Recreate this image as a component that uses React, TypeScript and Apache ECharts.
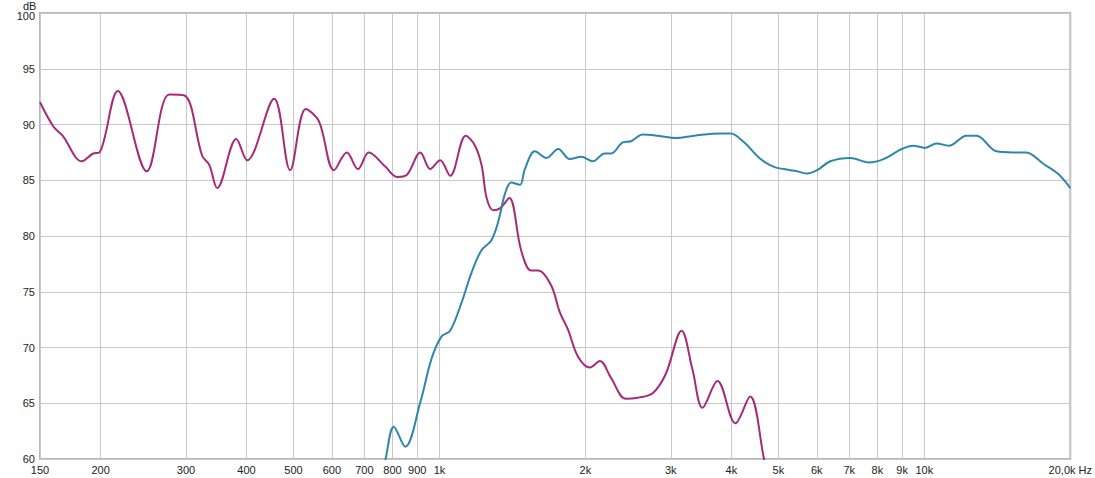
import React, { useEffect, useRef } from "react";
import * as echarts from "echarts";

// Frequency ticks (Hz)
const xTicks = [150, 200, 300, 400, 500, 600, 700, 800, 900, 1000, 2000, 3000, 4000, 5000, 6000, 7000, 8000, 9000, 10000, 20000];
const yTicks = [60, 65, 70, 75, 80, 85, 90, 95, 100];

// Woofer response (magenta): [Hz, dB]
const wooferFreq = [150, 160, 167, 183, 193, 199, 217, 249, 277, 298, 324, 335, 348, 381, 401, 456, 492, 530, 564, 606, 644, 679, 715, 774, 817, 857, 913, 957, 1003, 1052, 1133, 1184, 1222, 1251, 1291, 1335, 1393, 1474, 1545, 1598, 1698, 1773, 1841, 1930, 2043, 2142, 2257, 2423, 2564, 2752, 2927, 3157, 3326, 3487, 3744, 4078, 4371, 4670, 4800];
const wooferDb = [92.0, 89.8, 89.0, 86.7, 87.4, 87.5, 93.0, 85.8, 92.7, 92.6, 87.2, 86.4, 84.3, 88.7, 86.8, 92.3, 85.9, 91.4, 90.3, 85.9, 87.5, 86.0, 87.5, 86.2, 85.3, 85.5, 87.5, 86.0, 86.8, 85.4, 89.0, 88.1, 86.3, 83.4, 82.3, 82.5, 83.4, 78.7, 76.9, 76.9, 75.6, 73.1, 71.6, 69.2, 68.2, 68.8, 67.3, 65.4, 65.5, 65.9, 67.6, 71.5, 68.0, 64.6, 67.0, 63.2, 65.6, 60.0, 57.5];

// Tweeter response (blue): [Hz, dB]
const tweeterFreq = [760, 774, 805, 850, 913, 963, 1010, 1052, 1110, 1164, 1220, 1279, 1322, 1365, 1406, 1465, 1500, 1573, 1662, 1757, 1857, 1961, 2072, 2190, 2260, 2388, 2484, 2626, 2819, 3074, 3354, 3803, 3987, 4247, 4594, 4896, 5132, 5465, 5730, 6008, 6399, 7036, 7674, 8238, 8982, 9492, 10030, 10602, 11234, 12216, 12808, 14080, 15237, 16229, 17565, 18852, 20000];
const tweeterDb = [58.5, 60.0, 62.9, 61.1, 65.1, 69.0, 71.0, 71.5, 74.0, 76.7, 78.7, 79.6, 81.3, 83.8, 84.8, 84.6, 86.0, 87.6, 87.0, 87.8, 86.9, 87.1, 86.7, 87.4, 87.4, 88.4, 88.5, 89.1, 89.0, 88.8, 89.0, 89.2, 89.2, 88.4, 86.9, 86.2, 86.0, 85.8, 85.6, 85.9, 86.7, 87.0, 86.6, 86.9, 87.8, 88.1, 87.9, 88.3, 88.1, 89.0, 89.0, 87.6, 87.5, 87.5, 86.5, 85.6, 84.3];

const fmtHz = (v: number) => {
  if (Math.abs(v - 20000) < 1) return "20,0k Hz";
  if (v >= 1000) return Math.round(v / 1000) + "k";
  return String(Math.round(v));
};

export default function App() {
  const ref = useRef<HTMLDivElement>(null);
  useEffect(() => {
    if (!ref.current) return;
    const chart = echarts.init(ref.current, undefined, { renderer: "svg" });
    const font = "'Liberation Sans', Arial, sans-serif";
    const yMax = yTicks[yTicks.length - 1];
    chart.setOption({
      animation: false,
      backgroundColor: "#ffffff",
      grid: {
        left: 40,
        right: 20,
        top: 13,
        bottom: 19,
        show: true,
        borderColor: "#b8b8b8",
        borderWidth: 2,
      },
      graphic: [
        {
          type: "text",
          left: 23,
          top: 0,
          style: { text: "dB", fontSize: 11, fontFamily: font, fill: "#222" },
        },
      ],
      xAxis: {
        type: "log",
        logBase: 10,
        min: xTicks[0],
        max: xTicks[xTicks.length - 1],
        axisLine: { show: false },
        axisTick: { show: false, customValues: xTicks },
        axisLabel: {
          customValues: xTicks,
          formatter: (v: number) => fmtHz(v),
          fontSize: 11,
          fontFamily: font,
          color: "#222",
          margin: 5,
          hideOverlap: false,
        },
        splitLine: { show: true, lineStyle: { color: "#c8c8c8", width: 1 } },
        minorSplitLine: { show: false },
      },
      yAxis: {
        type: "value",
        min: yTicks[0],
        max: yMax,
        interval: 5,
        axisLine: { show: false },
        axisTick: { show: false },
        axisLabel: {
          fontSize: 11,
          fontFamily: font,
          color: "#222",
          margin: 5,
          showMinLabel: true,
          showMaxLabel: true,
          formatter: (v: number) => (v === yMax ? "{t|" + v + "}" : String(v)),
          rich: {
            t: { fontSize: 11, fontFamily: font, color: "#222", padding: [6, 0, 0, 0] },
          },
        },
        splitLine: { show: true, lineStyle: { color: "#c8c8c8", width: 1 } },
      },
      series: [
        {
          name: "woofer",
          type: "line",
          data: wooferFreq.map((f, i) => [f, wooferDb[i]]),
          showSymbol: false,
          smooth: 0.35,
          clip: true,
          lineStyle: { color: "#a52a7c", width: 2 },
          itemStyle: { color: "#a52a7c" },
        },
        {
          name: "tweeter",
          type: "line",
          data: tweeterFreq.map((f, i) => [f, tweeterDb[i]]),
          showSymbol: false,
          smooth: 0.35,
          clip: true,
          lineStyle: { color: "#2e87ab", width: 2 },
          itemStyle: { color: "#2e87ab" },
        },
      ],
    });
    return () => chart.dispose();
  }, []);
  return (
    <div
      ref={ref}
      style={{ position: "fixed", left: 0, top: 0, width: 1095, height: 478 }}
    />
  );
}
